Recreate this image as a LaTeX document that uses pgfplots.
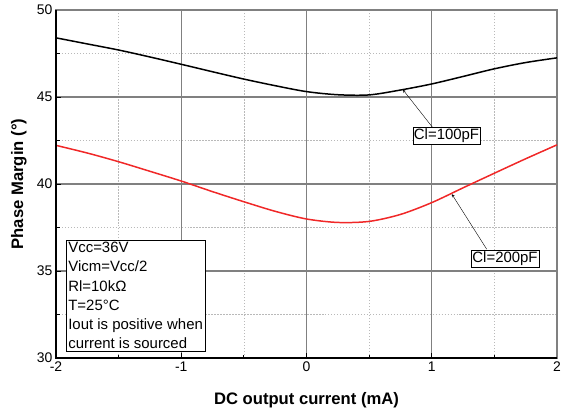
\documentclass[border=0pt]{standalone}
\usepackage{pgfplots}
\pgfplotsset{compat=1.18}
\usepackage{fontspec}
\setmainfont{Liberation Sans}
\definecolor{gridgray}{RGB}{128,128,128}
\definecolor{minorgray}{RGB}{185,185,185}
\definecolor{curvered}{RGB}{240,40,40}
\begin{document}
\begin{tikzpicture}
\begin{axis}[
    scale only axis,
    width=501bp, height=348bp,
    xmin=-2, xmax=2, ymin=30, ymax=50,
    xtick={-2,-1,0,1,2}, ytick={30,35,40,45,50},
    minor x tick num=1, minor y tick num=1,
    xtick pos=bottom, ytick pos=left,
    grid=both,
    major grid style={gridgray, line width=1.5pt},
    minor grid style={minorgray, dash pattern=on 1.5pt off 1.5pt, line width=0.7pt},
    axis line style={gridgray, line width=1.5pt},
    clip=false,
    tick align=inside,
    tick style={black, line width=0.8pt},
    major tick length=5bp, minor tick length=3.5bp,
    /pgf/number format/assume math mode=true,
    ticklabel style={font=\fontsize{14}{16}\selectfont},
    xlabel={DC output current (mA)},
    ylabel={Phase Margin (°)},
    label style={font=\fontsize{16.7}{19}\selectfont\bfseries},
    xlabel style={at={(axis description cs:0.5,-0.12)}, anchor=center},
    ylabel style={at={(axis description cs:-0.074,0.5)}, anchor=center},
]
\addplot[black, line width=1.5pt, smooth] coordinates {
    (-2,48.40) (-1.75,48.05) (-1.5,47.70) (-1.25,47.30) (-1,46.88)
    (-0.75,46.45) (-0.5,46.03) (-0.25,45.65) (0,45.31) (0.25,45.13)
    (0.5,45.12) (0.75,45.40) (1,45.75) (1.25,46.18)
    (1.5,46.62) (1.75,46.98) (2,47.25)
};
\addplot[curvered, line width=1.5pt, smooth] coordinates {
    (-2,42.22) (-1.75,41.78) (-1.5,41.28) (-1.25,40.73) (-1,40.17)
    (-0.75,39.56) (-0.5,38.98) (-0.25,38.43) (0,37.99) (0.25,37.79)
    (0.5,37.85) (0.75,38.25) (1,38.93) (1.25,39.78)
    (1.5,40.62) (1.75,41.45) (2,42.25)
};
\draw[black, line width=1.2pt] (rel axis cs:0,1) -- (rel axis cs:0,0) -- (rel axis cs:1,0);
\draw[-stealth, thin] (axis cs:1.008,43.24) -- (axis cs:0.77,45.42);
\draw[-stealth, thin] (axis cs:1.439,36.25) -- (axis cs:1.16,39.42);
\node[draw, fill=white, inner sep=1.2bp, font=\fontsize{15}{17}\selectfont]
    at (axis cs:1.118,42.78) {Cl=100pF};
\node[draw, fill=white, inner sep=1.2bp, font=\fontsize{15}{17}\selectfont]
    at (axis cs:1.585,35.70) {Cl=200pF};
\node[draw, fill=white, anchor=south west, align=left, inner sep=2.5bp,
      font=\fontsize{15}{19.3}\selectfont]
    at (axis cs:-1.923,30.36) {Vcc=36V\\Vicm=Vcc/2\\Rl=10kΩ\\T=25°C\\Iout is positive when\\current is sourced};
\coordinate (bl) at (rel axis cs:0,0);
\coordinate (tr) at (rel axis cs:1,1);
\end{axis}
\path (bl) ++(-56bp,-56bp) coordinate (pa);
\path (tr) ++(4bp,10bp) coordinate (pb);
\pgfresetboundingbox
\path (pa) rectangle (pb);
\end{tikzpicture}
\end{document}
